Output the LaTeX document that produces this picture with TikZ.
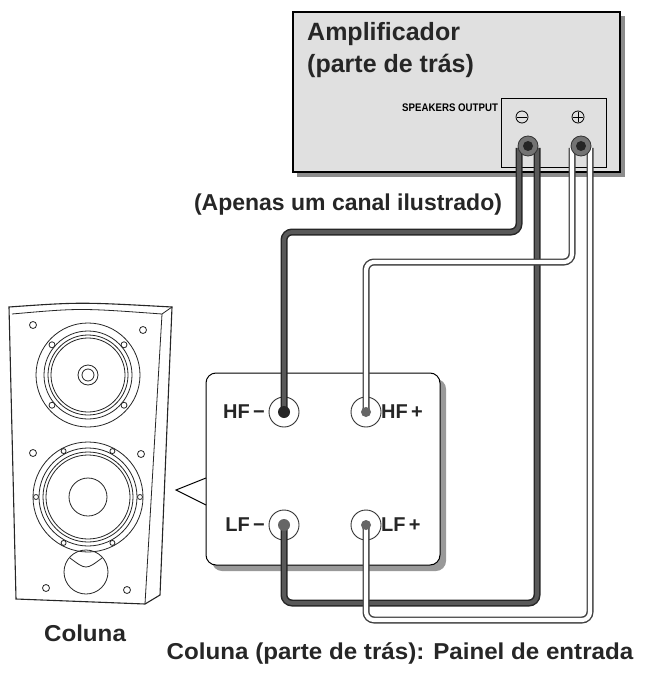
\documentclass[tikz,border=0pt]{standalone}
\usepackage{fontspec}
\setmainfont{Liberation Sans}
\usetikzlibrary{calc}
\begin{document}
\begin{tikzpicture}[x=1pt,y=-1pt,
  lbl/.style={font=\bfseries\fontsize{23}{26}\selectfont,text=black!85},
  jl/.style={font=\bfseries\fontsize{20}{24}\selectfont,text=black!85},
  jack/.style={circle,draw=black!80,line width=0.9pt,fill=white,minimum size=30pt,inner sep=0},
  post/.style={circle,draw=black!80,line width=0.8pt,fill=black!55,minimum size=20pt,inner sep=0},
  darkw/.style={line width=7pt,black!85,rounded corners=8pt},
  darkin/.style={line width=4pt,black!65,rounded corners=8pt},
  whitew/.style={line width=7pt,black!75,rounded corners=8pt},
  whitein/.style={line width=4.2pt,white,rounded corners=8pt},
  sp/.style={line width=0.8pt,black!85}]
\useasboundingbox (0,0) rectangle (671,676);
% amplifier
\fill[black!45] (297,16) rectangle (625,177);
\draw[line width=1.2pt,fill=black!12] (293,12) rectangle (620,172);
\node[anchor=north west,align=left,font=\bfseries\fontsize{25}{32}\selectfont,text=black!85,inner sep=0] (amp) at (307,22) {Amplificador\\(parte de trás)};
\draw[line width=0.8pt,fill=black!12] (501,98) rectangle (606,167);
\node[anchor=east,font=\bfseries\fontsize{11}{12}\selectfont,xscale=0.88,inner sep=1pt] (so) at (499,108) {SPEAKERS OUTPUT};
\node[circle,draw,line width=0.8pt,minimum size=12pt,inner sep=0] (m) at (522,117) {};
\draw[line width=0.9pt] (517,117) -- (527,117);
\node[circle,draw,line width=0.8pt,minimum size=12pt,inner sep=0] (p) at (578,117) {};
\draw[line width=0.9pt] (573,117) -- (583,117) (578,112) -- (578,122);
% panel shadow and panel
\fill[black!40,rounded corners=10pt] (212,379) rectangle (446,571);
\draw[line width=1pt,fill=white,rounded corners=10pt] (206,373) rectangle (440,565);
\fill[white] (205,478) -- (176,490) -- (205,505) -- cycle;
\draw[line width=1pt] (206,478) -- (176,490) -- (206,505);
\fill[white] (206.5,478) rectangle (210,505);
% jacks
\node[jack] (hfm) at (284,412) {};
\node[jack] (hfp) at (366,412) {};
\node[jack] (lfm) at (284,525) {};
\node[jack] (lfp) at (366,525) {};
\coordinate (a1) at (519,148); \coordinate (a2) at (537,148);
\coordinate (b1) at (572,148); \coordinate (b2) at (590,148);
% wires
\draw[darkw] (a1) -- (519,232) -- (284,232) -- (hfm.center);
\draw[darkin] (a1) -- (519,232) -- (284,232) -- (hfm.center);
\draw[darkw] (lfm.center) -- (284,603) -- (537,603) -- (a2);
\draw[darkin] (lfm.center) -- (284,603) -- (537,603) -- (a2);
\draw[whitew] (b1) -- (572,262) -- (366,262) -- (hfp.center);
\draw[whitein] (b1) -- (572,262) -- (366,262) -- (hfp.center);
\draw[whitew] (lfp.center) -- (366,620) -- (590,620) -- (b2);
\draw[whitein] (lfp.center) -- (366,620) -- (590,620) -- (b2);
\fill[black!85] (hfm) circle (6); \fill[black!60] (lfm) circle (6);
\fill[black!60] (hfp) circle (5); \fill[black!60] (lfp) circle (5);
% posts
\node[post] (pm) at (528,146) {}; \fill[black!85] (pm) circle (5);
\node[post] (pp) at (581,146) {}; \fill[black!85] (pp) circle (5);
% jack labels
\node[jl,anchor=east,inner sep=0] (t1) at (265,412) {HF\,−};
\node[jl,anchor=west,inner sep=0] (t2) at (381,412) {HF\,+};
\node[jl,anchor=east,inner sep=0] (t3) at (265,525) {LF\,−};
\node[jl,anchor=west,inner sep=0] (t4) at (381,525) {LF\,+};
\node[lbl] (ap) at (348,205) {(Apenas um canal ilustrado)};
% speaker
\draw[sp,fill=white,line width=1.1pt] (9,307) .. controls (80,302) .. (172,307) -- (160,595) -- (145,604) -- (16,599) -- cycle;
\draw[sp] (12,314) .. controls (80,308) .. (162,314) -- (145,604);
\draw[sp] (162,314) -- (172,307);
\foreach \x/\y in {33/325,143/330,33/453,141/454,46/588,127/590}
  \draw[sp] (\x,\y) circle (3.5);
\draw[sp] (88,375) circle (52) circle (44) circle (40) circle (37);
\draw[sp] (88,375) circle (10) circle (6);
\foreach \a in {40,140,220,320} \draw[sp] ($(88,375)+(\a:47)$) circle (3);
\draw[sp] (88,497) circle (55) circle (49) circle (45) circle (42) circle (19);
\foreach \a in {0,62,118,180,242,298} \draw[sp] ($(88,497)+(\a:52)$) circle (2.5);
\draw[sp] (86,572) circle (22);
\draw[sp] (70,558) .. controls (86,570) .. (102,558);
\node[lbl,xscale=1.05] (col) at (85,633) {Coluna};
\node[lbl,xscale=1.05] (cap) at (400,653) {Coluna (parte de trás): Painel de entrada};
\end{tikzpicture}
\end{document}
